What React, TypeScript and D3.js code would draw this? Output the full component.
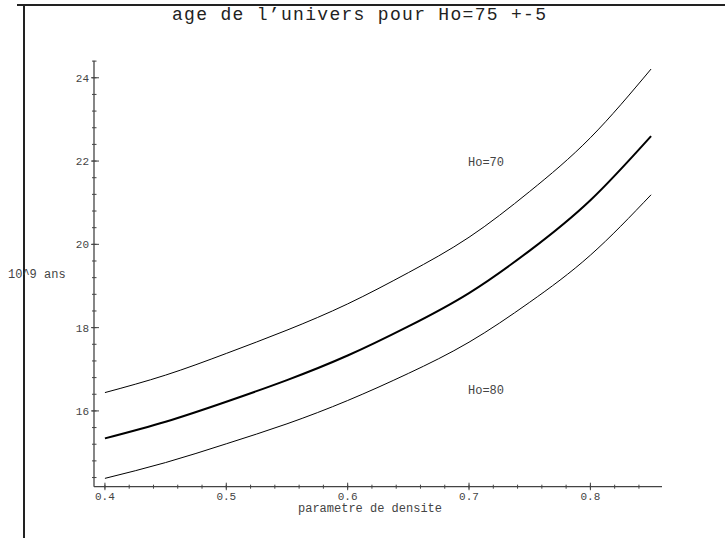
import React, {useEffect, useRef} from "react";
import * as d3 from 'd3';

const WIDTH = 725;
const HEIGHT = 538;
const FONT = "'Liberation Mono', 'DejaVu Sans Mono', monospace";

// densite parameter
const densite = [0.4, 0.45, 0.5, 0.55, 0.6, 0.65, 0.7, 0.75, 0.8, 0.85];
// age (10^9 ans) for Ho=70, 75, 80
const ageHo70 = [16.44, 16.86, 17.38, 17.94, 18.57, 19.32, 20.17, 21.27, 22.56, 24.21];
const ageHo75 = [15.34, 15.74, 16.22, 16.74, 17.33, 18.03, 18.83, 19.85, 21.06, 22.6];
const ageHo80 = [14.38, 14.76, 15.21, 15.69, 16.25, 16.9, 17.65, 18.61, 19.74, 21.19];

const xMajor = [0.4, 0.5, 0.6, 0.7, 0.8];
const xMajorLabels = ["0.4", "0.5", "0.6", "0.7", "0.8"];
const yMajor = [16, 18, 20, 22, 24];

export default function App() {
    const ref = useRef(null);

    useEffect(() => {
        const svg = d3.select(ref.current);
        svg.selectAll('*').remove();

        const xScale = d3.scaleLinear().domain([0.391, 0.859]).range([94, 662]);
        const yScale = d3.scaleLinear().domain([14.18, 24.41]).range([486.7, 60.7]);

        // frame
        svg.append('line').attr('x1', 17).attr('x2', WIDTH).attr('y1', 5).attr('y2', 5)
            .style('stroke', '#222').style('stroke-width', 2);
        svg.append('line').attr('x1', 24).attr('x2', 24).attr('y1', 5).attr('y2', HEIGHT)
            .style('stroke', '#222').style('stroke-width', 2);

        const axes = svg.append('g').style('stroke', '#444');
        const x0 = xScale(0.391);
        const y0 = yScale(14.18);

        // y axis
        axes.append('line').attr('x1', x0).attr('x2', x0)
            .attr('y1', yScale(24.41)).attr('y2', y0).style('stroke-width', 1.3);
        const yMinor = d3.range(14.4, 24.41, 0.4);
        axes.selectAll('.ymin').data(yMinor).enter().append('line')
            .attr('x1', x0 - 2).attr('x2', x0 + 2.5)
            .attr('y1', d => yScale(d)).attr('y2', d => yScale(d))
            .style('stroke-width', 1);
        axes.selectAll('.ymaj').data(yMajor).enter().append('line')
            .attr('x1', x0 - 3).attr('x2', x0 + 5)
            .attr('y1', d => yScale(d)).attr('y2', d => yScale(d))
            .style('stroke-width', 1);

        // x axis
        axes.append('line').attr('x1', x0).attr('x2', xScale(0.859))
            .attr('y1', y0).attr('y2', y0).style('stroke-width', 1.3);
        const xMinor = d3.range(0.4, 0.85, 0.02);
        axes.selectAll('.xmin').data(xMinor).enter().append('line')
            .attr('x1', d => xScale(d)).attr('x2', d => xScale(d))
            .attr('y1', y0 - 2).attr('y2', y0 + 2)
            .style('stroke-width', 1);
        axes.selectAll('.xmaj').data(xMajor).enter().append('line')
            .attr('x1', d => xScale(d)).attr('x2', d => xScale(d))
            .attr('y1', y0 - 4).attr('y2', y0 + 3.5)
            .style('stroke-width', 1);

        const labels = svg.append('g').style('font-family', FONT).style('fill', '#444');
        labels.selectAll('.yl').data(yMajor).enter().append('text')
            .attr('x', x0 - 5).attr('y', d => yScale(d) + 4)
            .attr('text-anchor', 'end').style('font-size', '11px')
            .text(d => String(d));
        labels.selectAll('.xl').data(xMajor).enter().append('text')
            .attr('x', d => xScale(d)).attr('y', y0 + 13)
            .attr('text-anchor', 'middle').style('font-size', '11px')
            .text((d, i) => xMajorLabels[i]);

        labels.append('text').attr('x', 370).attr('y', 512).attr('text-anchor', 'middle')
            .style('font-size', '12px').text('parametre de densite');
        labels.append('text').attr('x', 8).attr('y', 278)
            .style('font-size', '12px').text('10^9 ans');
        labels.append('text').attr('x', 359).attr('y', 20).attr('text-anchor', 'middle')
            .style('font-size', '18px').style('fill', '#222')
            .attr('textLength', 374).attr('lengthAdjust', 'spacing')
            .text('age de l\u2019univers pour Ho=75 +-5');
        labels.append('text').attr('x', 468).attr('y', 165.5)
            .style('font-size', '12px').text('Ho=70');
        labels.append('text').attr('x', 468).attr('y', 394)
            .style('font-size', '12px').text('Ho=80');

        const line = d3.line<number>()
            .x((d, i) => xScale(densite[i]))
            .y(d => yScale(d))
            .curve(d3.curveNatural);

        const series = [
            {vals: ageHo70, w: 1},
            {vals: ageHo75, w: 2},
            {vals: ageHo80, w: 1},
        ];
        svg.append('g').selectAll('path').data(series).enter().append('path')
            .attr('d', d => line(d.vals))
            .style('fill', 'none')
            .style('stroke', '#000')
            .style('stroke-width', d => d.w);
    }, []);

    return (
        <svg ref={ref} width={WIDTH} height={HEIGHT} style={{position: 'absolute', left: 0, top: 0, background: '#fff'}}/>
    );
}
